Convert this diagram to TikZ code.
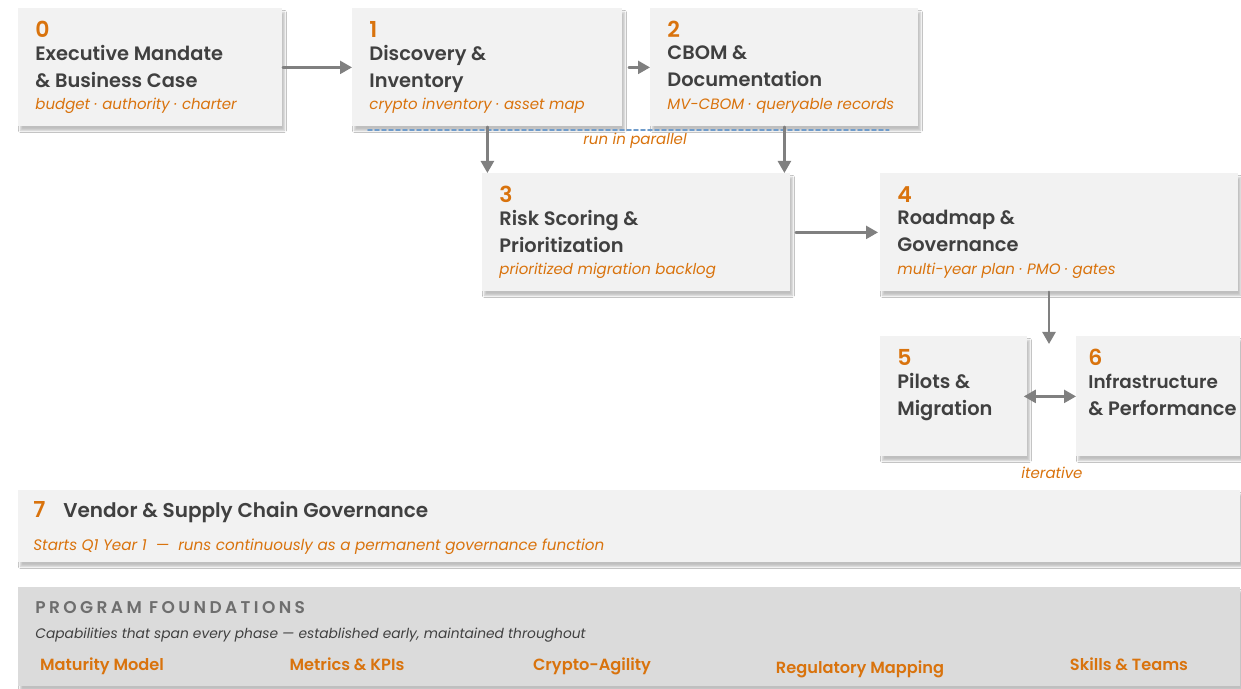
\documentclass[tikz,border=0pt]{standalone}
\usepackage{fontspec}
\setmainfont{Poppins}
\newfontfamily\semibold{Poppins SemiBold}
\usetikzlibrary{positioning,arrows.meta,shadows.blur}

\definecolor{phaseorange}{HTML}{D9730D}
\definecolor{phasegray}{HTML}{F2F2F2}
\definecolor{basegray}{HTML}{DBDBDB}
\definecolor{inkgray}{HTML}{404040}
\definecolor{capsgray}{HTML}{6E6E6E}
\definecolor{arrowgray}{HTML}{808080}
\definecolor{dashblue}{HTML}{6F9CCB}

\begin{document}
\begin{tikzpicture}[x=0.5pt, y=-0.5pt, >={Triangle[length=6pt,width=6.5pt]}, line cap=round,
  box/.style={fill=phasegray, draw=none, anchor=north west, inner sep=0,
    blur shadow={shadow xshift=1pt, shadow yshift=-2pt, shadow blur radius=1pt, shadow opacity=25}},
  num/.style={text=phaseorange, font=\semibold\fontsize{11}{13}\selectfont, inner sep=0, anchor=north west},
  title/.style={text=inkgray, font=\semibold\fontsize{9.7}{13.5}\selectfont, align=left, inner sep=0},
  tag/.style={text=phaseorange, font=\itshape\fontsize{7.5}{9}\selectfont, inner sep=0},
  item/.style={anchor=base, inner sep=0, text=phaseorange, font=\semibold\fontsize{8.1}{9}\selectfont},
  flow/.style={draw=arrowgray, line width=1.2pt, ->}]

\useasboundingbox[fill=white] (0,0) rectangle (1241,689);

% --- layout helpers ---
\def\padx{8.5pt}   % left inset of the card text

% --- one phase card: box, number, title, orange tag line ---
\newcommand{\phase}[8]{%
  % name, x, y, width, height, number, title, tag
  \node[box, minimum width=#4, minimum height=#5] (#1) at (#2,#3) {};
  \node[num] (#1n) at ([xshift=\padx, yshift=-6.5pt]#1.north west) {#6};
  \node[title, below=3.5pt of #1n.south west, anchor=north west] (#1h) {#7};
  \node[tag, anchor=base west] (#1s) at ([xshift=\padx, yshift=8.5pt]#1.south west) {#8};
}

% --- phases 0-6 ---
\phase{p0}{18}{8}{132pt}{59pt}{0}{Executive Mandate\\\& Business Case}{budget · authority · charter}
\phase{p1}{352}{8}{135pt}{59pt}{1}{Discovery \&\\Inventory}{crypto inventory · asset map}
\phase{p2}{650}{8}{134pt}{59pt}{2}{CBOM \&\\Documentation}{MV-CBOM · queryable records}
\phase{p3}{482}{173}{154pt}{59pt}{3}{Risk Scoring \&\\Prioritization}{prioritized migration backlog}
\phase{p4}{880}{173}{179pt}{59pt}{4}{Roadmap \&\\Governance}{multi-year plan · PMO · gates}
\phase{p5}{880}{336}{73.5pt}{60pt}{5}{Pilots \&\\Migration}{}
\def\padx{6pt}
\phase{p6}{1076}{336}{82pt}{60pt}{6}{\fontsize{9.2}{12.5}\selectfont Infrastructure\\\& Performance}{}

% --- parallel marker under 1 and 2 ---
\draw[dashblue, line width=.8pt, dash pattern=on 2pt off 1.5pt]
  ([xshift=8pt, yshift=-1.5pt]p1.south west) -- ([xshift=-15pt, yshift=-1.5pt]p2.south east);
\node[tag] (par) at (635,141) {run in parallel};

% --- flow arrows ---
\draw[flow] (p0) -- (p1);
\draw[flow, shorten <=3pt] (p1) -- (p2);
\draw[flow] (p1.south) -- (p1.south |- p3.north);
\draw[flow] (p2.south) -- (p2.south |- p3.north);
\draw[flow, shorten <=2.5pt, shorten >=1pt] (p3) -- (p4);
\coordinate (split) at (1049,344);
\draw[flow] (p4.south -| split) -- (split);
\draw[flow, <->, shorten <=-2pt] (p5) -- (p6);
\node[tag] (iter) at (1052,473) {iterative};

% --- vendor governance band ---
\node[box, minimum width=611pt, minimum height=36pt] (p7) at (18,490) {};
\node[num, anchor=base west] (p7n) at (33,517) {7};
\node[title, anchor=base west, font=\semibold\fontsize{10}{13}\selectfont] (p7h) at (63,517) {Vendor \& Supply Chain Governance};
\node[tag, anchor=base west, font=\itshape\fontsize{7.6}{9}\selectfont] (p7s) at (33,550)
  {Starts Q1 Year 1 \ — \ runs continuously as a permanent governance function};

% --- program foundations ---
\node[box, fill=basegray, minimum width=611pt, minimum height=49.5pt] (base) at (18,587) {};
\node[anchor=base west, inner sep=0, text=capsgray, font=\semibold\fontsize{8.5}{10}\selectfont\addfontfeatures{LetterSpace=20}] (baseh) at (35,613) {PROGRAM FOUNDATIONS};
\node[anchor=base west, inner sep=0, text=inkgray, font=\itshape\fontsize{6.9}{9}\selectfont] (basec) at (35,638)
  {Capabilities that span every phase — established early, maintained throughout};
\node[item] (b1) at (102,670) {Maturity Model};
\node[item] (b2) at (347,670) {Metrics \& KPIs};
\node[item] (b3) at (592,670) {Crypto-Agility};
\node[item] (b4) at (860,673) {Regulatory Mapping};
\node[item] (b5) at (1129,670) {Skills \& Teams};

\end{tikzpicture}
\end{document}
